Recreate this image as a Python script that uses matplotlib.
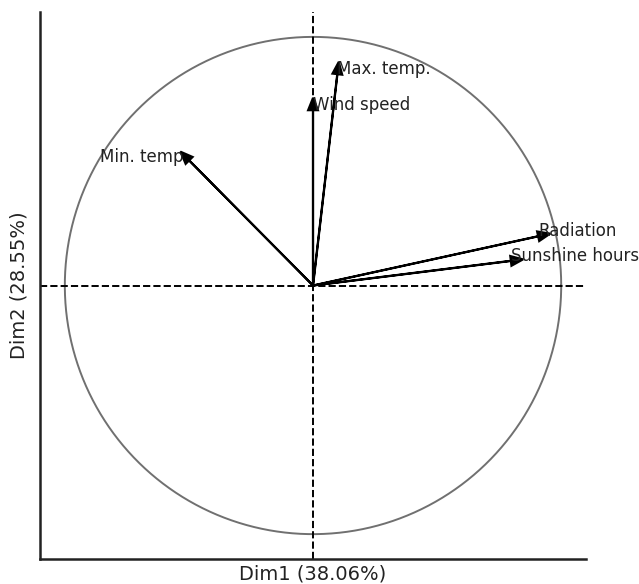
import matplotlib
matplotlib.use("Agg")
import matplotlib.pyplot as plt
import numpy as np

variables = ["Max. temp.", "Wind speed", "Min. temp", "Radiation", "Sunshine hours"]
dim1 = [0.098, 0.000, -0.499, 0.907, 0.797]
dim2 = [0.850, 0.705, 0.503, 0.198, 0.099]
xlabel = "Dim1 (38.06%)"
ylabel = "Dim2 (28.55%)"

fig = plt.figure(figsize=(6.39, 5.84), dpi=100)
ax = fig.add_axes([0.0626, 0.0428, 0.8545, 0.9366])

theta = np.linspace(0, 2 * np.pi, 400)
ax.plot(np.cos(theta), np.sin(theta), color="#707070", lw=1.4, zorder=1)
ax.axhline(0, color="black", ls="--", lw=1.4, zorder=1)
ax.axvline(0, color="black", ls="--", lw=1.4, zorder=1)

for name, x, y in zip(variables, dim1, dim2):
    ax.arrow(0, 0, x, y, head_width=0.04, head_length=0.05, fc="black", ec="black",
             lw=1.5, length_includes_head=False, zorder=3)
    if x >= 0:
        ax.annotate(name, (x, y), ha="left", va="baseline", fontsize=12,
                    color="#222222", zorder=4)
    else:
        ax.annotate(name, (x, y), xytext=(-4, -1), textcoords="offset points",
                    ha="right", va="baseline", fontsize=12, color="#222222", zorder=4)

ax.set_xlim(-1.1, 1.1)
ax.set_ylim(-1.1, 1.1)
ax.set_xticks([])
ax.set_yticks([])
for s in ["top", "right"]:
    ax.spines[s].set_visible(False)
for s in ["left", "bottom"]:
    ax.spines[s].set_linewidth(1.8)
    ax.spines[s].set_color("#222222")
ax.set_xlabel(xlabel, fontsize=14, color="#222222", labelpad=4)
ax.set_ylabel(ylabel, fontsize=14, color="#222222", labelpad=8)

fig.savefig("out.png", dpi=100)
